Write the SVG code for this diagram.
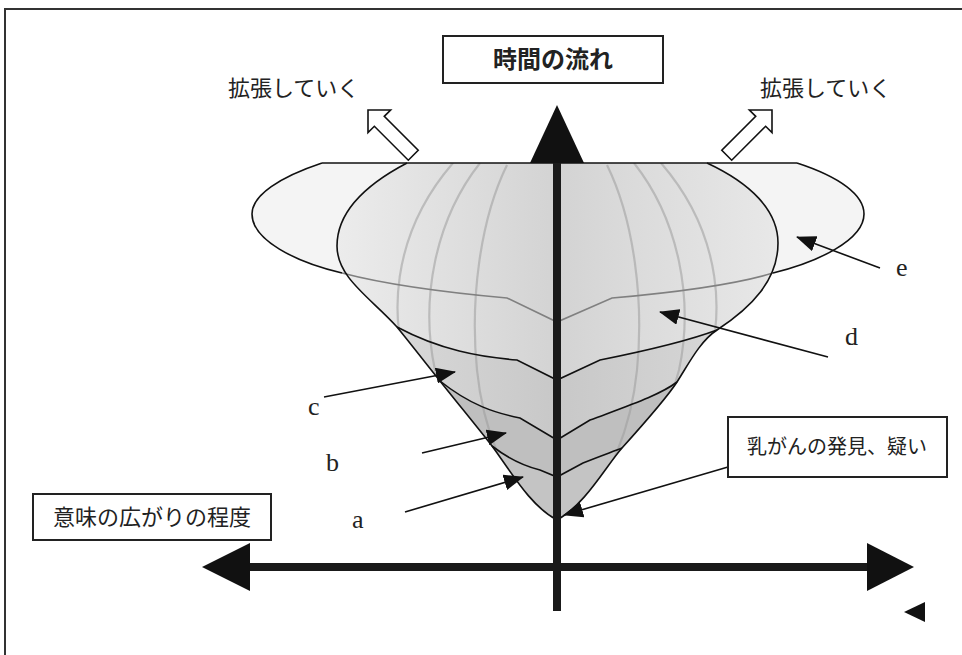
<svg xmlns="http://www.w3.org/2000/svg" width="962" height="655" viewBox="0 0 962 655">
<style>
.jp{font-family:"Noto Sans CJK JP","Noto Sans",sans-serif;fill:#222}
.lt{font-family:"Liberation Serif",serif;font-size:26px;fill:#222}
.box{fill:#fff;stroke:#222;stroke-width:2}
.bd{fill:none;stroke:#111;stroke-width:1.6}
.mer{fill:none;stroke:#9c9c9c;stroke-width:2.2;opacity:0.55}
.lead{fill:none;stroke:#111;stroke-width:1.6}
.hollow{fill:#fff;stroke:#111;stroke-width:1.6}
.axis{stroke:#1a1a1a;stroke-width:8}
</style>
<defs>
<linearGradient id="gd" gradientUnits="userSpaceOnUse" x1="337" y1="0" x2="778" y2="0">
<stop offset="0" stop-color="#ececec"/><stop offset="0.3" stop-color="#dddddd"/><stop offset="0.5" stop-color="#d3d3d3"/><stop offset="0.7" stop-color="#dcdcdc"/><stop offset="1" stop-color="#e8e8e8"/>
</linearGradient>
<linearGradient id="gc" gradientUnits="userSpaceOnUse" x1="397" y1="0" x2="717" y2="0">
<stop offset="0" stop-color="#d8d8d8"/><stop offset="0.5" stop-color="#c8c8c8"/><stop offset="1" stop-color="#d6d6d6"/>
</linearGradient>
<clipPath id="clipOut"><path d="M 407,163 L 707,163 C 750,183 778,210 778,243 C 778,280 752,307 717,330 C 700,341 688,365 677,382 C 666,399 640,428 622,448 C 606,466 585,505 557,520 C 530,506 510,470 492,446 C 478,428 455,400 440,381 C 428,366 410,343 397,327 C 371,298 337,278 337,246 C 337,212 365,185 407,163 Z"/></clipPath>
<marker id="ah" viewBox="0 0 20 16" refX="19" refY="8" markerWidth="20" markerHeight="16" markerUnits="userSpaceOnUse" orient="auto"><path d="M0,0 L20,8 L0,16 Z" fill="#111"/></marker>
</defs>
<rect width="962" height="655" fill="#fff"/>
<path d="M5,655 L5,9 L962,9" fill="none" stroke="#333" stroke-width="2"/>

<g id="shape">
<path id="layer-e" d="M 322,163 L 797,163 C 840,177 864,195 864,214 C 864,240 818,262 773,273 C 740,283 680,292 612,298 L 557,322 L 507,298 C 440,292 380,283 342,273 C 295,262 252,240 252,214 C 252,195 280,177 322,163 Z" fill="#f4f4f4"/>
<path id="layer-d" d="M 407,163 L 707,163 C 750,183 778,210 778,243 C 778,280 752,307 717,330 C 700,341 688,365 677,382 C 666,399 640,428 622,448 C 606,466 585,505 557,520 C 530,506 510,470 492,446 C 478,428 455,400 440,381 C 428,366 410,343 397,327 C 371,298 337,278 337,246 C 337,212 365,185 407,163 Z" fill="url(#gd)"/>
<path id="layer-c" d="M 397,327 C 440,350 480,357 517,360 L 557,380 L 600,360 C 640,352 685,342 717,330 C 700,341 688,365 677,382 C 666,399 640,428 622,448 C 606,466 585,505 557,520 C 530,506 510,470 492,446 C 478,428 455,400 440,381 C 428,366 410,343 397,327 Z" fill="url(#gc)"/>
<path id="layer-b" d="M 440,381 C 470,405 495,413 520,418 L 557,440 L 590,420 C 630,405 660,395 677,382 C 666,399 640,428 622,448 C 606,466 585,505 557,520 C 530,506 510,470 492,446 C 478,428 455,400 440,381 Z" fill="#bfbfbf"/>
<path id="layer-a" d="M 492,446 C 510,460 528,467 540,470 L 557,477 L 583,463 C 600,456 612,452 622,448 C 606,466 585,505 557,520 C 530,506 510,470 492,446 Z" fill="#c4c4c4"/>
<g clip-path="url(#clipOut)">
<path class="mer" d="M 453,163 C 395,230 380,320 420,400 C 445,450 490,490 530,515"/>
<path class="mer" d="M 480,163 C 435,220 420,300 435,370 C 450,430 480,480 520,510"/>
<path class="mer" d="M 507,165 C 480,220 470,300 477,370 C 483,430 505,480 535,515"/>
<path class="mer" d="M 661,163 C 719,230 734,320 694,400 C 669,450 624,490 584,515"/>
<path class="mer" d="M 634,163 C 679,220 694,300 679,370 C 664,430 634,480 594,510"/>
<path class="mer" d="M 607,165 C 634,220 644,300 637,370 C 631,430 609,480 579,515"/>
</g>
<path d="M 342,273 C 380,283 440,292 507,298 L 557,322 L 612,298 C 680,292 740,283 773,273" fill="none" stroke="#808080" stroke-width="1.6"/>
<path class="bd" d="M 322,163 C 280,177 252,195 252,214 C 252,240 295,262 342,273"/>
<path class="bd" d="M 797,163 C 840,177 864,195 864,214 C 864,240 818,262 773,273"/>
<path class="bd" d="M 322,163 L 797,163"/>
<path class="bd" d="M 707,163 C 750,183 778,210 778,243 C 778,280 752,307 717,330 C 700,341 688,365 677,382 C 666,399 640,428 622,448 C 606,466 585,505 557,520 C 530,506 510,470 492,446 C 478,428 455,400 440,381 C 428,366 410,343 397,327 C 371,298 337,278 337,246 C 337,212 365,185 407,163"/>
<path class="bd" d="M 397,327 C 440,350 480,357 517,360 L 557,380 L 600,360 C 640,352 685,342 717,330"/>
<path class="bd" d="M 440,381 C 470,405 495,413 520,418 L 557,440 L 590,420 C 630,405 660,395 677,382"/>
<path class="bd" d="M 492,446 C 510,460 528,467 540,470 L 557,477 L 583,463 C 600,456 612,452 622,448"/>
</g>

<g id="axes">
<line class="axis" x1="557" y1="160" x2="557" y2="611"/>
<path d="M557,105 L530,163 L584,163 Z" fill="#111"/>
<line class="axis" x1="246" y1="567" x2="870" y2="567"/>
<path d="M202,567 L250,543 L250,591 Z" fill="#111"/>
<path d="M914,567 L867,543 L867,591 Z" fill="#111"/>
<path d="M904,612 L925,602 L925,622 Z" fill="#111"/>
</g>

<g id="connectors">
<path class="lead" d="M 880,268 L 797,237" marker-end="url(#ah)"/>
<path class="lead" d="M 828,357 L 660,312" marker-end="url(#ah)"/>
<path class="lead" d="M 324,397 L 455,372" marker-end="url(#ah)"/>
<path class="lead" d="M 422,453 L 506,433" marker-end="url(#ah)"/>
<path class="lead" d="M 405,512 L 523,477" marker-end="url(#ah)"/>
<path class="lead" d="M 728,467 L 564,515" marker-end="url(#ah)"/>
</g>

<g id="expand-left">
<path class="hollow" transform="translate(368,110) rotate(-45)" d="M0,0 L16,16 L7,16 L7,64 L-7,64 L-7,16 L-16,16 Z"/>
<text class="jp" x="228" y="96" font-size="22">拡張していく</text>
</g>
<g id="expand-right">
<path class="hollow" transform="translate(772,110) rotate(45)" d="M0,0 L16,16 L7,16 L7,64 L-7,64 L-7,16 L-16,16 Z"/>
<text class="jp" x="760" y="96" font-size="22">拡張していく</text>
</g>

<g id="title">
<rect class="box" x="443" y="36" width="220" height="47"/>
<text class="jp" x="553" y="68" font-size="24" font-weight="bold" text-anchor="middle">時間の流れ</text>
</g>
<g id="meaning">
<rect class="box" x="33" y="494" width="238" height="46"/>
<text class="jp" x="152" y="525" font-size="22" text-anchor="middle">意味の広がりの程度</text>
</g>
<g id="discovery">
<rect class="box" x="728" y="417" width="219" height="60"/>
<text class="jp" x="837" y="454" font-size="20" text-anchor="middle">乳がんの発見、疑い</text>
</g>

<g id="labels">
<text class="lt" x="896" y="276">e</text>
<text class="lt" x="845" y="345">d</text>
<text class="lt" x="308" y="415">c</text>
<text class="lt" x="326" y="471">b</text>
<text class="lt" x="352" y="528">a</text>
</g>
</svg>
